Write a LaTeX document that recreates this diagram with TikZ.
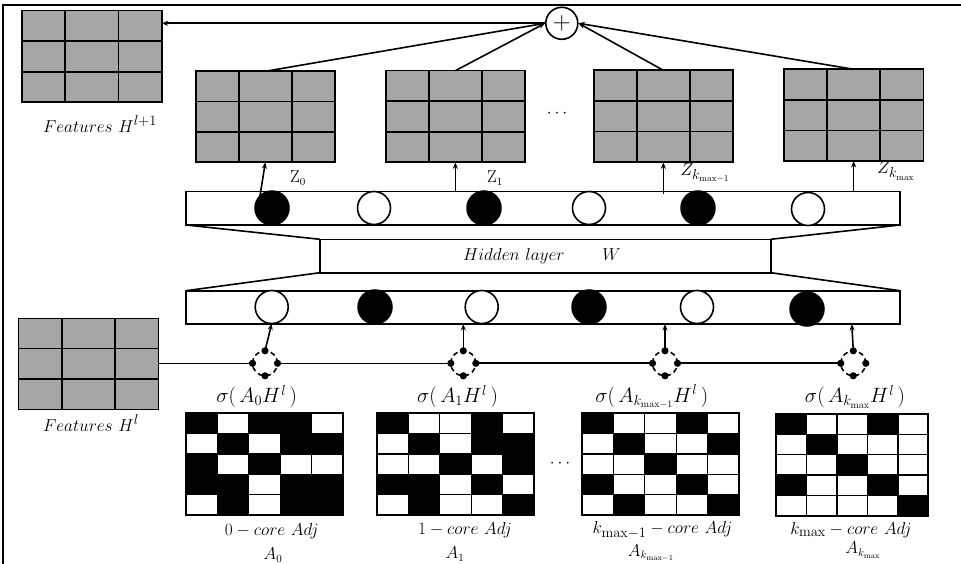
\documentclass[tikz,border=0pt]{standalone}
\usetikzlibrary{fit,calc,arrows.meta}
\definecolor{cellgray}{RGB}{166,166,166}
\colorlet{B}{black}
\colorlet{W}{white}
\newcommand\FeatGrid[5]{%
  \node[fgrid, fit={(#2,#3)(#4,#5)}] (#1) {};
  \draw[line width=1.6pt] ($(#1.north west)!0.31!(#1.north east)$) -- ($(#1.south west)!0.31!(#1.south east)$);
  \draw[line width=1.6pt] ($(#1.north west)!0.69!(#1.north east)$) -- ($(#1.south west)!0.69!(#1.south east)$);
  \draw[line width=1.6pt] ($(#1.north west)!0.3333!(#1.south west)$) -- ($(#1.north east)!0.3333!(#1.south east)$);
  \draw[line width=1.6pt] ($(#1.north west)!0.6667!(#1.south west)$) -- ($(#1.north east)!0.6667!(#1.south east)$);
}
\newcommand\AdjMat[6]{%
  \foreach \row [count=\r] in {#6} {
    \foreach \v [count=\c] in \row {
      \draw[line width=1.3pt, fill=\v] ({#2+(\c-1)*#4},{#3+(\r-1)*#5}) rectangle ++(#4,#5);
    }
  }
  \node[draw, line width=1.8pt, inner sep=0pt, outer sep=0pt, fit={(#2,#3)({#2+5*#4},{#3+5*#5})}] (#1) {};
}
\newcommand\AggDots[1]{%
  \fill (#1.north) circle (3.6pt);
  \fill (#1.east) circle (3.6pt);
  \fill (#1.south) circle (3.6pt);
  \fill (#1.west) circle (3.6pt);
}
\begin{document}
\begin{tikzpicture}[x=1pt,y=-1pt, line width=1.5pt,
  fgrid/.style={draw, fill=cellgray, inner sep=0pt, outer sep=0pt, line width=1.6pt},
  barbox/.style={draw, inner sep=0pt, outer sep=0pt, line width=1.6pt},
  neuronB/.style={circle, fill=black, draw=black, minimum size=34pt, inner sep=0pt, outer sep=0pt},
  neuronW/.style={circle, fill=white, draw=black, line width=1.6pt, minimum size=33pt, inner sep=0pt, outer sep=0pt},
  agg/.style={circle, draw, line width=1.6pt, dash pattern=on 5pt off 3.5pt, minimum size=25pt, inner sep=0pt, outer sep=0pt},
  arr/.style={-{Stealth[length=6.5pt,width=5pt]}, line width=1.6pt},
  conn/.style={line width=1.6pt},
  lbl/.style={inner sep=0pt, font=\fontsize{19}{21}\selectfont},
  sig/.style={inner sep=0pt, font=\fontsize{20}{22}\selectfont},
  zl/.style={inner sep=0pt, font=\fontsize{16}{18}\selectfont},
  al/.style={inner sep=0pt, font=\fontsize{16}{18}\selectfont},
]
\useasboundingbox (0,0) rectangle (961,564);
\draw[line width=1.2pt] (3,564) -- (3,5) -- (961,5);

% feature grids
\FeatGrid{hlone}{21.7}{10.7}{161.7}{102.3}
\FeatGrid{hl}{18.3}{318.3}{158.3}{409.3}
\FeatGrid{z0}{195.7}{71.3}{335}{162.3}
\FeatGrid{z1}{385.7}{70.7}{525}{162.3}
\FeatGrid{z2}{594}{70.3}{732.7}{162.3}
\FeatGrid{z3}{784}{69.3}{923.3}{161}

\node[lbl] (fl1) at (100,124) {$Features\ H^{l+1}$};
\node[lbl] (fl) at (91,423) {$Features\ H^{l}$};

% plus
\node[circle, draw, line width=1.6pt, minimum size=32pt, inner sep=0pt, fill=white] (plus) at (561.8,23.3) {\fontsize{28}{28}\selectfont$+$};
\draw[arr] (plus.west) -- (hlone.east |- plus.west);
\draw[arr] (z0.north) -- (plus.west);
\draw[arr] (z1.north) -- (plus.west);
\draw[arr] (z2.north) -- (plus.east);
\draw[arr] (z3.north) -- (plus.east);

\node[inner sep=0pt, font=\fontsize{18}{18}\selectfont] (dtop) at (557,114) {$\cdots$};

% bars
\node[barbox, fit={(186,191.7)(900,225)}] (tbar) {};
\node[barbox, fit={(186,290.7)(900,324)}] (bbar) {};
\node[barbox, fit={(320,239.3)(770.7,272.7)}] (hid) {};
\node[lbl] (hidtxt) at (542,256) {$Hidden\ layer\qquad W$};
\draw[conn] (tbar.south west) -- (hid.north west);
\draw[conn] (hid.south west) -- (bbar.north west);
\draw[conn] (tbar.south east) -- (hid.north east);
\draw[conn] (hid.south east) -- (bbar.north east);

% neurons top
\node[neuronB] (t1) at (272,208) {};
\node[neuronW] (t2) at (374,208) {};
\node[neuronB] (t3) at (484,208) {};
\node[neuronW] (t4) at (589,208) {};
\node[neuronB] (t5) at (698,208) {};
\node[neuronW] (t6) at (808,209) {};
% neurons bottom
\node[neuronW] (b1) at (271.7,307) {};
\node[neuronB] (b2) at (375,307) {};
\node[neuronW] (b3) at (481.7,307) {};
\node[neuronB] (b4) at (589,307) {};
\node[neuronW] (b5) at (697,307) {};
\node[neuronB] (b6) at (807,309) {};

% arrows top bar -> Z
\draw[arr] (t1.north west) -- (z0.south);
\draw[arr] (z1.south |- tbar.north) -- (z1.south);
\draw[arr] ($(z2.south |- tbar.north)+(0,2)$) -- (z2.south);
\draw[arr] (z3.south |- tbar.north) -- (z3.south);

\node[zl] (lz0) at (298,178) {$\mathrm{Z}_0$};
\node[zl] (lz1) at (495,178) {$\mathrm{Z}_1$};
\node[zl, font=\fontsize{19}{21}\selectfont] (lz2) at (705,173) {$Z_{k_{\mathrm{max}-1}}$};
\node[zl, font=\fontsize{19}{21}\selectfont] (lz3) at (896,171) {$Z_{k_{\mathrm{max}}}$};

% aggregation nodes
\node[agg] (g0) at (265,363.3) {};
\node[agg] (g1) at (463.3,363.3) {};
\node[agg] (g2) at (665,363.3) {};
\node[agg] (g3) at (853.3,363.3) {};
\AggDots{g0}\AggDots{g1}\AggDots{g2}\AggDots{g3}
\draw[line width=1.2pt] (hl.east |- g0.west) -- (g0.west);
\draw[line width=1.2pt] (g0.east) -- (g1.west);
\draw[line width=1.7pt] (g1.east) -- (g2.west);
\draw[line width=1.7pt] (g2.east) -- (g3.west);
\draw[arr] (g0.north) -- (b1.south);
\draw[arr] (g1.north) -- (g1.north |- bbar.south);
\draw[arr] (g2.north) -- (g2.north |- bbar.south);
\draw[arr] (g3.north) -- ($(g3.north |- bbar.south)+(-1.5,0)$);

\node[sig] (s0) at (256.7,396.7) {$\sigma\bigl(\,A_0H^{\mathit{l}}\,\bigr)$};
\node[sig] (s1) at (457.5,396.7) {$\sigma\bigl(\,A_1H^{\mathit{l}}\,\bigr)$};
\node[sig] (s2) at (651.7,396.7) {$\sigma\bigl(\,A_{k_{\mathrm{max}-1}}H^{\mathit{l}}\,\bigr)$};
\node[sig] (s3) at (855,396.7) {$\sigma\bigl(\,A_{k_{\mathrm{max}}}H^{\mathit{l}}\,\bigr)$};

% adjacency matrices
\AdjMat{m0}{185.7}{413.3}{31.5}{20.34}{{B,W,B,B,W},{W,B,W,B,B},{B,W,B,W,W},{B,B,W,B,B},{W,B,W,B,B}}
\AdjMat{m1}{376.7}{413.3}{31.5}{20.34}{{B,W,W,B,W},{W,B,W,B,B},{W,W,B,W,B},{B,B,W,B,W},{W,B,W,W,B}}
\AdjMat{m2}{581.7}{413.3}{31.5}{20.34}{{B,W,W,B,W},{W,B,W,W,B},{W,W,B,W,W},{B,W,W,B,W},{W,B,W,W,B}}
\AdjMat{m3}{776}{414}{30.46}{20.34}{{B,W,W,B,W},{W,B,W,W,W},{W,W,B,W,W},{B,W,W,B,W},{W,W,W,W,B}}

\node[inner sep=0pt, font=\fontsize{18}{18}\selectfont] (dbot) at (560,464) {$\cdots$};

\node[lbl] (c0) at (271.7,531.5) {$0-core\ Adj$};
\node[lbl] (c1) at (465,530) {$1-core\ Adj$};
\node[lbl] (c2) at (662.5,530) {$k_{\mathrm{max}-1}-core\ Adj$};
\node[lbl] (c3) at (851,530) {$k_{\mathrm{max}}-core\ Adj$};

\node[al] (a0) at (273,555) {$A_0$};
\node[al] (a1) at (455,554) {$A_1$};
\node[al] (a2) at (651,553) {$A_{k_{\mathrm{max}-1}}$};
\node[al] (a3) at (863,550) {$A_{k_{\mathrm{max}}}$};
\end{tikzpicture}
\end{document}
